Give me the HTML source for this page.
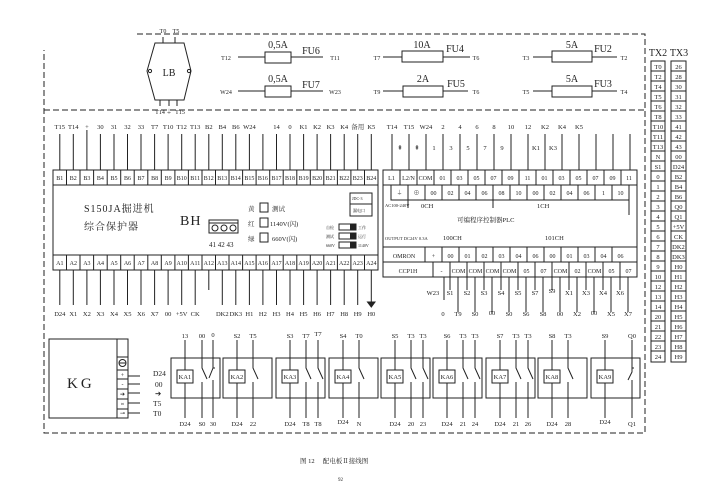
<!DOCTYPE html>
<html><head><meta charset="utf-8"><style>
html,body{margin:0;padding:0;background:#fff;}
svg{display:block;font-family:"Liberation Serif","Noto Serif CJK SC",serif;}
text{fill:#222;}
</style></head><body>
<svg width="711" height="503" viewBox="0 0 711 503" xmlns="http://www.w3.org/2000/svg">
<g stroke="#222" fill="none" stroke-width="1">
<!-- dashed frame -->
<path d="M137 34H645V433H44V50" stroke-dasharray="6,3"/>
<path d="M44 110H645" stroke-dasharray="6,3"/>
<!-- LB -->
<path d="M155 43H184L191 71L184 100H155L147 71Z"/>
<circle cx="150" cy="71" r="1.6"/><circle cx="189" cy="71" r="1.6"/>
<path d="M163 37V43M175 37V43M160 100V106M169 100V106M177 100V106"/>
<!-- fuses -->
<path d="M238 57H265M291 57H323M238 91H265M291 91H323"/>
<rect x="265" y="52" width="26" height="11"/><rect x="265" y="86" width="26" height="11"/>
<path d="M383 57H402M443 57H470M383 91H403M443 91H468"/>
<rect x="402" y="51" width="41" height="11"/><rect x="403" y="86" width="40" height="11"/>
<path d="M533 57H552M592 57H617M533 91H552M592 91H617"/>
<rect x="552" y="51" width="40" height="11"/><rect x="552" y="86" width="40" height="11"/>
<!-- B drops -->
<path d="M59.8 134V170M73.3 134V170M86.9 130V170M100.4 134V170M114 134V170M127.5 134V170M141 134V170M154.6 134V170M168.1 134V170M181.7 134V170M195.2 134V170M208.8 134V170M222.3 134V170M235.8 134V170M249.4 134V170M262.9 134V170M276.5 134V170M290 134V170M303.6 134V170M317.1 134V170M330.6 134V170M344.2 134V170M357.7 134V170M371.3 134V170"/>
<!-- BH box -->
<rect x="53" y="170" width="325" height="100"/>
<path d="M53 185H378M53 255H378"/>
<path d="M66.5 170V185M80 170V185M93.6 170V185M107.2 170V185M120.7 170V185M134.2 170V185M147.8 170V185M161.3 170V185M174.9 170V185M188.4 170V185M202 170V185M215.5 170V185M229 170V185M242.6 170V185M256.1 170V185M269.7 170V185M283.2 170V185M296.8 170V185M310.3 170V185M323.8 170V185M337.4 170V185M350.9 170V185M364.5 170V185"/>
<path d="M66.5 255V270M80 255V270M93.6 255V270M107.2 255V270M120.7 255V270M134.2 255V270M147.8 255V270M161.3 255V270M174.9 255V270M188.4 255V270M202 255V270M215.5 255V270M229 255V270M242.6 255V270M256.1 255V270M269.7 255V270M283.2 255V270M296.8 255V270M310.3 255V270M323.8 255V270M337.4 255V270M350.9 255V270M364.5 255V270"/>
<path d="M59.8 270V305M73.3 270V305M86.9 270V305M100.4 270V305M114 270V305M127.5 270V305M141 270V305M154.6 270V305M168.1 270V305M181.7 270V305M195.2 270V305M208.8 270V290M222.3 270V305M235.8 270V305M249.4 270V305M262.9 270V305M276.5 270V305M290 270V305M303.6 270V305M317.1 270V305M330.6 270V305M344.2 270V305M357.7 270V305M371.3 270V302"/>
<path d="M367.5 302H375L371.3 307Z" fill="#222"/>
<!-- indicators -->
<rect x="350" y="193" width="22" height="11"/><rect x="350" y="204" width="22" height="12"/>
<rect x="260" y="203" width="8" height="9"/><rect x="260" y="218" width="8" height="9"/><rect x="260" y="233" width="8" height="9"/>
<rect x="209" y="223" width="29" height="10"/><rect x="209" y="220" width="29" height="3"/>
<circle cx="215" cy="228" r="3"/><circle cx="224" cy="228" r="3"/><circle cx="233" cy="228" r="3"/>
<rect x="339" y="224" width="17" height="6"/><rect x="339" y="233" width="17" height="6"/><rect x="339" y="242" width="17" height="6"/>
<!-- PLC -->
<path d="M392 134V170M409 134V170M426 134V170M443 134V170M460 134V170M477 134V170M494 134V170M511 134V170M528 134V170M545 134V170M562 134V170M579 134V170M596 134V170M613 134V170M630 134V170"/>
<rect x="383" y="170" width="254" height="107"/>
<path d="M383 185H637M383 247H637M383 262H637"/>
<path d="M400 170V185M417 170V185M434 170V185M451 170V185M468 170V185M485 170V185M502 170V185M519 170V185M536 170V185M553 170V185M570 170V185M587 170V185M604 170V185M621 170V185"/>
<path d="M391 185V200H629V185M408 185V200M425 185V200M442 185V200M459 185V200M476 185V200M493 185V200M510 185V200M527 185V200M544 185V200M561 185V200M578 185V200M595 185V200M612 185V200"/>
<path d="M408 200V208M493 200V208M629 200V215"/>
<path d="M425 247V262M442 247V262M459 247V262M476 247V262M493 247V262M510 247V262M527 247V262M544 247V262M561 247V262M578 247V262M595 247V262M612 247V262"/>
<path d="M433 262V277M450 262V277M467 262V277M484 262V277M501 262V277M518 262V277M535 262V277M552 262V277M569 262V277M586 262V277M603 262V277M620 262V277"/>
<path d="M444 277V300M450 277V290M467 277V290M484 277V290M501 277V290M518 277V290M535 277V290M552 277V290M569 277V290M586 277V290M603 277V290M620 277V290"/>
<path d="M458 277V312M475 277V312M492 277V312M509 277V312M526 277V312M543 277V312M560 277V312M577 277V312M594 277V312M611 277V312M628 277V312"/>
<!-- KG -->
<rect x="49" y="339" width="68" height="79"/>
<rect x="117" y="339" width="11" height="79"/>
<path d="M117 357H128M117 370H128M117 379H128M117 389H128M117 399H128M117 409H128"/>
<circle cx="122.5" cy="363" r="3.5"/><path d="M119 363H126"/>
<path d="M128 376H140M128 384H140M128 393H140M128 403H140M128 413H140"/>
<!-- relays -->
<rect x="171" y="358" width="49" height="40"/><rect x="223" y="358" width="49" height="40"/>
<rect x="276" y="358" width="49" height="40"/><rect x="329" y="358" width="49" height="40"/>
<rect x="381" y="358" width="49" height="40"/><rect x="433" y="358" width="49" height="40"/>
<rect x="486" y="358" width="49" height="40"/><rect x="538" y="358" width="49" height="40"/>
<rect x="591" y="358" width="49" height="40"/>
<rect x="177" y="370" width="16" height="13"/><rect x="229" y="370" width="16" height="13"/>
<rect x="282" y="370" width="16" height="13"/><rect x="335" y="370" width="16" height="13"/>
<rect x="387" y="370" width="16" height="13"/><rect x="439" y="370" width="16" height="13"/>
<rect x="492" y="370" width="16" height="13"/><rect x="544" y="370" width="16" height="13"/>
<rect x="597" y="370" width="16" height="13"/>
<path d="M185 340V370M185 383V418M202 340V368L207 379M202 382V418M213 340V368L209 378M213 368H215M213 380V418"/>
<path d="M237 340V370M237 383V418M253 340V368L258 379M253 382V418"/>
<path d="M290 340V370M290 383V418M306 340V368L311 379M306 382V418M318 340V368L323 379M318 382V418"/>
<path d="M343 340V370M343 383V418M359 340V368L364 379M359 382V418"/>
<path d="M395 340V370M395 383V418M411 340V368L416 379M411 382V418M423 340V368L428 379M423 382V418"/>
<path d="M447 340V370M447 383V418M463 340V368L468 379M463 382V418M475 340V368L480 379M475 382V418"/>
<path d="M500 340V370M500 383V418M516 340V368L521 379M516 382V418M528 340V368L533 379M528 382V418"/>
<path d="M552 340V370M552 383V418M568 340V368L573 379M568 382V418"/>
<path d="M605 340V370M605 383V418M632 340V372L628 380M632 368H634M632 380V418"/>
<!-- TX tables -->
<path d="M651 61V362H665V61ZM671 61V362H686V61Z"/>
<path d="M651 71H665M651 81H665M651 91H665M651 101H665M651 111H665M651 121H665M651 131H665M651 141H665M651 151H665M651 161H665M651 171H665M651 181H665M651 191H665M651 201H665M651 211H665M651 221H665M651 231H665M651 241H665M651 251H665M651 261H665M651 271H665M651 281H665M651 291H665M651 301H665M651 311H665M651 321H665M651 331H665M651 341H665M651 351H665"/>
<path d="M671 71H686M671 81H686M671 91H686M671 101H686M671 111H686M671 121H686M671 131H686M671 141H686M671 151H686M671 161H686M671 171H686M671 181H686M671 191H686M671 201H686M671 211H686M671 221H686M671 231H686M671 241H686M671 251H686M671 261H686M671 271H686M671 281H686M671 291H686M671 301H686M671 311H686M671 321H686M671 331H686M671 341H686M671 351H686"/>
</g>
<g fill="#222">
<rect x="350" y="224" width="6" height="6"/><rect x="350" y="233" width="6" height="6"/><rect x="350" y="242" width="6" height="6"/>
</g>
<g font-size="6" text-anchor="middle">
<text x="163" y="33">T0</text><text x="176" y="33">T5</text>
<text x="160" y="114">T14</text><text x="169" y="114">⏚</text><text x="180" y="114">T15</text>
<text x="226" y="60">T12</text><text x="335" y="60">T11</text>
<text x="226" y="94">W24</text><text x="335" y="94">W23</text>
<text x="377" y="60">T7</text><text x="476" y="60">T6</text>
<text x="377" y="94">T9</text><text x="476" y="94">T6</text>
<text x="526" y="60">T3</text><text x="624" y="60">T2</text>
<text x="526" y="94">T5</text><text x="624" y="94">T4</text>
</g>
<g font-size="10" text-anchor="middle">
<text x="169" y="76">LB</text>
<text x="278" y="48">0,5A</text><text x="311" y="54">FU6</text>
<text x="278" y="82">0,5A</text><text x="311" y="88">FU7</text>
<text x="422" y="48">10A</text><text x="455" y="52">FU4</text>
<text x="423" y="82">2A</text><text x="456" y="87">FU5</text>
<text x="572" y="48">5A</text><text x="603" y="52">FU2</text>
<text x="572" y="82">5A</text><text x="603" y="87">FU3</text>
<text x="658" y="56">TX2</text><text x="679" y="56">TX3</text>
</g>
<g font-size="6.5" text-anchor="middle">
<text x="59.8" y="129">T15</text><text x="73.3" y="129">T14</text><text x="86.9" y="129">+</text><text x="100.4" y="129">30</text><text x="114" y="129">31</text><text x="127.5" y="129">32</text><text x="141" y="129">33</text><text x="154.6" y="129">T7</text><text x="168.1" y="129">T10</text><text x="181.7" y="129">T12</text><text x="195.2" y="129">T13</text><text x="208.8" y="129">B2</text><text x="222.3" y="129">B4</text><text x="235.8" y="129">B6</text><text x="249.4" y="129">W24</text><text x="276.5" y="129">14</text><text x="290" y="129">0</text><text x="303.6" y="129">K1</text><text x="317.1" y="129">K2</text><text x="330.6" y="129">K3</text><text x="344.2" y="129">K4</text><text x="357.7" y="129">备用</text><text x="371.3" y="129">K5</text>
<text x="392" y="129">T14</text><text x="409" y="129">T15</text><text x="426" y="129">W24</text><text x="443" y="129">2</text><text x="460" y="129">4</text><text x="477" y="129">6</text><text x="494" y="129">8</text><text x="511" y="129">10</text><text x="528" y="129">12</text><text x="545" y="129">K2</text><text x="562" y="129">K4</text><text x="579" y="129">K5</text>
<text x="400" y="150">⇞</text><text x="417" y="150">⇞</text><text x="434" y="150">1</text><text x="451" y="150">3</text><text x="468" y="150">5</text><text x="485" y="150">7</text><text x="502" y="150">9</text><text x="536" y="150">K1</text><text x="553" y="150">K3</text>
</g>
<g font-size="6" text-anchor="middle">
<text x="59.8" y="180">B1</text><text x="73.3" y="180">B2</text><text x="86.9" y="180">B3</text><text x="100.4" y="180">B4</text><text x="114" y="180">B5</text><text x="127.5" y="180">B6</text><text x="141" y="180">B7</text><text x="154.6" y="180">B8</text><text x="168.1" y="180">B9</text><text x="181.7" y="180">B10</text><text x="195.2" y="180">B11</text><text x="208.8" y="180">B12</text><text x="222.3" y="180">B13</text><text x="235.8" y="180">B14</text><text x="249.4" y="180">B15</text><text x="262.9" y="180">B16</text><text x="276.5" y="180">B17</text><text x="290" y="180">B18</text><text x="303.6" y="180">B19</text><text x="317.1" y="180">B20</text><text x="330.6" y="180">B21</text><text x="344.2" y="180">B22</text><text x="357.7" y="180">B23</text><text x="371.3" y="180">B24</text>
<text x="59.8" y="265">A1</text><text x="73.3" y="265">A2</text><text x="86.9" y="265">A3</text><text x="100.4" y="265">A4</text><text x="114" y="265">A5</text><text x="127.5" y="265">A6</text><text x="141" y="265">A7</text><text x="154.6" y="265">A8</text><text x="168.1" y="265">A9</text><text x="181.7" y="265">A10</text><text x="195.2" y="265">A11</text><text x="208.8" y="265">A12</text><text x="222.3" y="265">A13</text><text x="235.8" y="265">A14</text><text x="249.4" y="265">A15</text><text x="262.9" y="265">A16</text><text x="276.5" y="265">A17</text><text x="290" y="265">A18</text><text x="303.6" y="265">A19</text><text x="317.1" y="265">A20</text><text x="330.6" y="265">A21</text><text x="344.2" y="265">A22</text><text x="357.7" y="265">A23</text><text x="371.3" y="265">A24</text>
</g>
<g font-size="6.5" text-anchor="middle">
<text x="59.8" y="316">D24</text><text x="73.3" y="316">X1</text><text x="86.9" y="316">X2</text><text x="100.4" y="316">X3</text><text x="114" y="316">X4</text><text x="127.5" y="316">X5</text><text x="141" y="316">X6</text><text x="154.6" y="316">X7</text><text x="168.1" y="316">00</text><text x="181.7" y="316">+5V</text><text x="195.2" y="316">CK</text><text x="222.3" y="316">DK2</text><text x="235.8" y="316">DK3</text><text x="249.4" y="316">H1</text><text x="262.9" y="316">H2</text><text x="276.5" y="316">H3</text><text x="290" y="316">H4</text><text x="303.6" y="316">H5</text><text x="317.1" y="316">H6</text><text x="330.6" y="316">H7</text><text x="344.2" y="316">H8</text><text x="357.7" y="316">H9</text><text x="371.3" y="316">H0</text>
</g>
<g font-size="10" letter-spacing="1">
<text x="84" y="212">S150JA掘进机</text>
<text x="84" y="230">综合保护器</text>
<text x="180" y="225" font-size="14">BH</text>
</g>
<g font-size="6.5">
<text x="248" y="211">黄</text><text x="272" y="211">测试</text>
<text x="248" y="226">红</text><text x="270" y="226">1140V(闪)</text>
<text x="248" y="241">绿</text><text x="272" y="241">660V(闪)</text>
<text x="209" y="247" font-size="7">41 42 43</text>
<text x="352" y="200" font-size="4">JDC-3</text><text x="353" y="212" font-size="4">漏电口</text>
<text x="326" y="229" font-size="4">自检</text><text x="358" y="229" font-size="4">工作</text>
<text x="326" y="238" font-size="4">测试</text><text x="358" y="238" font-size="4">运行</text>
<text x="326" y="247" font-size="4">660V</text><text x="358" y="247" font-size="4">1140V</text>
</g>
<g font-size="6" text-anchor="middle">
<text x="391.5" y="180">L1</text><text x="408.5" y="180">L2/N</text><text x="425.5" y="180">COM</text><text x="442.5" y="180">01</text><text x="459.5" y="180">03</text><text x="476.5" y="180">05</text><text x="493.5" y="180">07</text><text x="510.5" y="180">09</text><text x="527.5" y="180">11</text><text x="544.5" y="180">01</text><text x="561.5" y="180">03</text><text x="578.5" y="180">05</text><text x="595.5" y="180">07</text><text x="612.5" y="180">09</text><text x="629" y="180">11</text>
<text x="399.5" y="195">⏚</text><text x="416.5" y="195">⊕</text><text x="433.5" y="195">00</text><text x="450.5" y="195">02</text><text x="467.5" y="195">04</text><text x="484.5" y="195">06</text><text x="501.5" y="195">08</text><text x="518.5" y="195">10</text><text x="535.5" y="195">00</text><text x="552.5" y="195">02</text><text x="569.5" y="195">04</text><text x="586.5" y="195">06</text><text x="603.5" y="195">1</text><text x="620.5" y="195">10</text>
<text x="404" y="258">OMRON</text><text x="433.5" y="258">+</text><text x="450.5" y="258">00</text><text x="467.5" y="258">01</text><text x="484.5" y="258">02</text><text x="501.5" y="258">03</text><text x="518.5" y="258">04</text><text x="535.5" y="258">06</text><text x="552.5" y="258">00</text><text x="569.5" y="258">01</text><text x="586.5" y="258">03</text><text x="603.5" y="258">04</text><text x="620.5" y="258">06</text>
<text x="408" y="273">CCP1H</text><text x="441.5" y="273">-</text><text x="458.5" y="273">COM</text><text x="475.5" y="273">COM</text><text x="492.5" y="273">COM</text><text x="509.5" y="273">COM</text><text x="526.5" y="273">05</text><text x="543.5" y="273">07</text><text x="560.5" y="273">COM</text><text x="577.5" y="273">02</text><text x="594.5" y="273">COM</text><text x="611.5" y="273">05</text><text x="628.5" y="273">07</text>
</g>
<g font-size="4.5">
<text x="385" y="207">AC100-240V</text><text x="385" y="240">OUTPUT DC24V 0.3A</text>
</g>
<g font-size="6.5">
<text x="421" y="208">0CH</text><text x="537" y="208">1CH</text>
<text x="457" y="222">可编程序控制器PLC</text>
<text x="443" y="240">100CH</text><text x="545" y="240">101CH</text>
</g>
<g font-size="6.5" text-anchor="middle">
<text x="433" y="295">W23</text><text x="450" y="295">S1</text><text x="467" y="295">S2</text><text x="484" y="295">S3</text><text x="501" y="295">S4</text><text x="518" y="295">S5</text><text x="535" y="295">S7</text><text x="552" y="293">S9</text><text x="569" y="295">X1</text><text x="586" y="295">X3</text><text x="603" y="295">X4</text><text x="620" y="295">X6</text>
<text x="443" y="316">0</text><text x="458" y="316">T9</text><text x="475" y="316">S0</text><text x="492" y="315">00</text><text x="509" y="316">S0</text><text x="526" y="316">S6</text><text x="543" y="316">S8</text><text x="560" y="316">00</text><text x="577" y="316">X2</text><text x="594" y="315">00</text><text x="611" y="316">X5</text><text x="628" y="316">X7</text>
</g>
<g font-size="6" text-anchor="middle">
<text x="122.5" y="377">+</text><text x="122.5" y="386">-</text><text x="122.5" y="396">➔</text><text x="122.5" y="406">≈</text><text x="122.5" y="415">⊸</text>
</g>
<text x="67" y="388" font-size="15" letter-spacing="3">KG</text>
<g font-size="7.5">
<text x="153" y="376">D24</text><text x="155" y="387">00</text><text x="155" y="396">➔</text><text x="153" y="406">T5</text><text x="153" y="416">T0</text>
</g>
<g font-size="6.5" text-anchor="middle">
<text x="185" y="338">13</text><text x="202" y="338">00</text><text x="213" y="337">0</text>
<text x="237" y="338">S2</text><text x="253" y="338">T5</text>
<text x="290" y="338">S3</text><text x="306" y="338">T7</text><text x="318" y="336">T7</text>
<text x="343" y="338">S4</text><text x="359" y="338">T0</text>
<text x="395" y="338">S5</text><text x="411" y="338">T3</text><text x="423" y="338">T3</text>
<text x="447" y="338">S6</text><text x="463" y="338">T3</text><text x="475" y="338">T3</text>
<text x="500" y="338">S7</text><text x="516" y="338">T3</text><text x="528" y="338">T3</text>
<text x="552" y="338">S8</text><text x="568" y="338">T3</text>
<text x="605" y="338">S9</text><text x="632" y="338">Q0</text>
<text x="185" y="426">D24</text><text x="202" y="426">S0</text><text x="213" y="426">30</text>
<text x="237" y="426">D24</text><text x="253" y="426">22</text>
<text x="290" y="426">D24</text><text x="306" y="426">T8</text><text x="318" y="426">T8</text>
<text x="343" y="424">D24</text><text x="359" y="426">N</text>
<text x="395" y="426">D24</text><text x="411" y="426">20</text><text x="423" y="426">23</text>
<text x="447" y="426">D24</text><text x="463" y="426">21</text><text x="475" y="426">24</text>
<text x="500" y="426">D24</text><text x="516" y="426">21</text><text x="528" y="426">26</text>
<text x="552" y="426">D24</text><text x="568" y="426">28</text>
<text x="605" y="424">D24</text><text x="632" y="426">Q1</text>
<text x="185" y="379">KA1</text><text x="237" y="379">KA2</text><text x="290" y="379">KA3</text><text x="343" y="379">KA4</text><text x="395" y="379">KA5</text><text x="447" y="379">KA6</text><text x="500" y="379">KA7</text><text x="552" y="379">KA8</text><text x="605" y="379">KA9</text>
</g>
<g font-size="6.5" text-anchor="middle">
<text x="658" y="69">T0</text><text x="678.5" y="69">26</text>
<text x="658" y="79">T2</text><text x="678.5" y="79">28</text>
<text x="658" y="89">T4</text><text x="678.5" y="89">30</text>
<text x="658" y="99">T5</text><text x="678.5" y="99">31</text>
<text x="658" y="109">T6</text><text x="678.5" y="109">32</text>
<text x="658" y="119">T8</text><text x="678.5" y="119">33</text>
<text x="658" y="129">T10</text><text x="678.5" y="129">41</text>
<text x="658" y="139">T11</text><text x="678.5" y="139">42</text>
<text x="658" y="149">T13</text><text x="678.5" y="149">43</text>
<text x="658" y="159">N</text><text x="678.5" y="159">00</text>
<text x="658" y="169">S1</text><text x="678.5" y="169">D24</text>
<text x="658" y="179">0</text><text x="678.5" y="179">B2</text>
<text x="658" y="189">1</text><text x="678.5" y="189">B4</text>
<text x="658" y="199">2</text><text x="678.5" y="199">B6</text>
<text x="658" y="209">3</text><text x="678.5" y="209">Q0</text>
<text x="658" y="219">4</text><text x="678.5" y="219">Q1</text>
<text x="658" y="229">5</text><text x="678.5" y="229">+5V</text>
<text x="658" y="239">6</text><text x="678.5" y="239">CK</text>
<text x="658" y="249">7</text><text x="678.5" y="249">DK2</text>
<text x="658" y="259">8</text><text x="678.5" y="259">DK3</text>
<text x="658" y="269">9</text><text x="678.5" y="269">H0</text>
<text x="658" y="279">10</text><text x="678.5" y="279">H1</text>
<text x="658" y="289">12</text><text x="678.5" y="289">H2</text>
<text x="658" y="299">13</text><text x="678.5" y="299">H3</text>
<text x="658" y="309">14</text><text x="678.5" y="309">H4</text>
<text x="658" y="319">20</text><text x="678.5" y="319">H5</text>
<text x="658" y="329">21</text><text x="678.5" y="329">H6</text>
<text x="658" y="339">22</text><text x="678.5" y="339">H7</text>
<text x="658" y="349">23</text><text x="678.5" y="349">H8</text>
<text x="658" y="359">24</text><text x="678.5" y="359">H9</text>
</g>
<text x="300" y="463" font-size="6.5">图 12　 配电板Ⅱ接线图</text>
<text x="338" y="481" font-size="5">92</text>
</svg>
</body></html>
